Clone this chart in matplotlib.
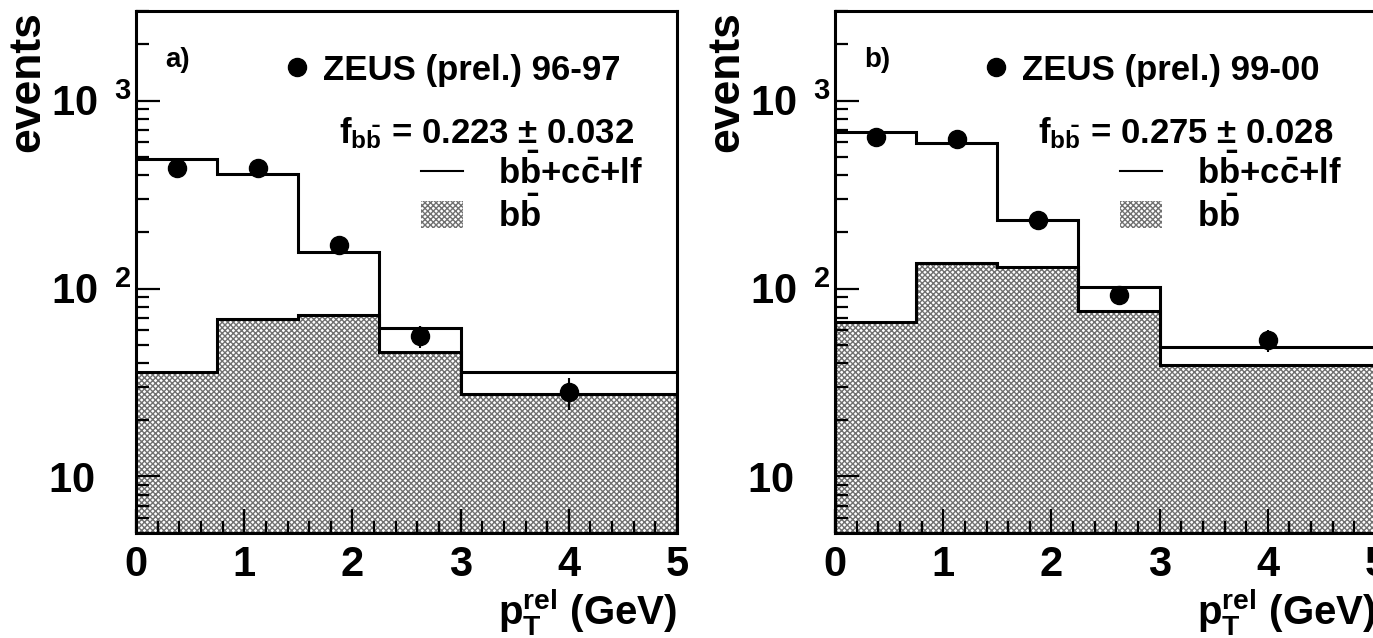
import matplotlib
matplotlib.use('Agg')
import matplotlib.pyplot as plt
import matplotlib.ticker as mticker
import matplotlib.transforms as mtransforms
from matplotlib.lines import Line2D
from matplotlib.patches import Patch
import numpy as np

# bin edges in p_T^rel (GeV)
EDGES = [0.0, 0.75, 1.5, 2.25, 3.0, 5.0]
XPTS = [0.375, 1.125, 1.875, 2.625, 4.0]

# panel a) 96-97
A_TOTAL = [489, 406, 156, 62, 36]
A_BB = [36, 69, 72, 46, 27.5]
A_DATA = [437, 440, 170, 56, 28]
A_ERR = [21, 21, 13, 7.5, 5.5]

# panel b) 99-00
B_TOTAL = [680, 594, 231, 102, 49]
B_BB = [66, 136, 131, 76, 39]
B_DATA = [640, 625, 231, 92, 53]
B_ERR = [25, 25, 15, 9.5, 7.3]

TAGS = ['a)', 'b)']
PERIODS = ['96-97', '99-00']
FBB = ['0.223 ± 0.032', '0.275 ± 0.028']
YTICKS = [10, 100, 1000]
YTICKLABELS = [r'$\mathbf{10}$', r'$\mathbf{10}^{\ \ \mathbf{2}}$', r'$\mathbf{10}^{\ \ \mathbf{3}}$']

plt.rcParams['font.family'] = ['Liberation Sans', 'DejaVu Sans']
plt.rcParams['font.weight'] = 'bold'
plt.rcParams['axes.labelweight'] = 'bold'
plt.rcParams['mathtext.fontset'] = 'custom'
plt.rcParams['mathtext.rm'] = 'Liberation Sans:bold'
plt.rcParams['mathtext.bf'] = 'Liberation Sans:bold'
plt.rcParams['mathtext.it'] = 'Liberation Sans:bold'
plt.rcParams['hatch.color'] = '#707070'
plt.rcParams['hatch.linewidth'] = 1.0

HATCH = 'xxxxxx'


def draw_panel(fig, ax, total, bb, data, err, tag, period, fbb):
   ax.stairs(bb, EDGES, baseline=1, fill=True, facecolor='white', edgecolor='#707070', lw=0, hatch=HATCH)
   ax.stairs(bb, EDGES, baseline=None, color='black', lw=2.2)
   ax.stairs(total, EDGES, baseline=None, color='black', lw=2.2)
   ax.errorbar(XPTS, data, yerr=err, fmt='o', color='black', ms=13, elinewidth=1.5, capsize=0, zorder=5)

   ax.set_yscale('log')
   ax.set_xlim(0, 5)
   ax.set_ylim(5, 3000)
   ax.yaxis.set_major_locator(mticker.FixedLocator(YTICKS))
   ax.yaxis.set_major_formatter(mticker.FixedFormatter(YTICKLABELS))
   ax.yaxis.set_minor_locator(mticker.LogLocator(base=10, subs=np.arange(2, 10)))
   ax.yaxis.set_minor_formatter(mticker.NullFormatter())
   ax.xaxis.set_major_locator(mticker.MultipleLocator(1))
   ax.xaxis.set_minor_locator(mticker.MultipleLocator(0.2))
   ax.tick_params(which='both', direction='in', top=False, right=False, width=1.6, labelsize=30)
   ax.tick_params(which='major', length=17)
   ax.tick_params(which='minor', length=9)
   ax.tick_params(axis='y', which='major', pad=3)
   ax.tick_params(axis='x', which='major', pad=9)
   for sp in ax.spines.values():
      sp.set_linewidth(2.2)
   # plain "10" sits where the other mantissas sit, not flush to the axis
   lab10 = ax.yaxis.get_major_ticks()[0].label1
   lab10.set_transform(lab10.get_transform() + mtransforms.ScaledTranslation(-0.37, 0, fig.dpi_scale_trans))

   ax.set_ylabel('events', fontsize=32, loc='top')
   ax.yaxis.set_label_coords(-0.163, 1.0)
   ax.set_xlabel(r'$\mathbf{p_T^{rel}}$ (GeV)', fontsize=29, loc='right', labelpad=1)

   ax.text(0.054, 0.906, tag, transform=ax.transAxes, fontsize=20, ha='left', va='center')
   leg1 = ax.legend([Line2D([], [], ls='none', marker='o', color='black', ms=13)],
                    ['ZEUS (prel.) %s' % period], loc='center left', bbox_to_anchor=(0.265, 0.887),
                    frameon=False, fontsize=25, handlelength=1.0, handletextpad=0.25, borderpad=0, borderaxespad=0)
   ax.add_artist(leg1)
   ax.text(0.375, 0.766, r'$\mathbf{f_{b\bar{b}}}$ = %s' % fbb, transform=ax.transAxes, fontsize=25, ha='left', va='center')
   ax.legend([Line2D([], [], color='black', lw=1.5),
              Patch(facecolor='white', edgecolor='#707070', lw=0, hatch=HATCH)],
             [r'$\mathbf{b\bar{b}{+}c\bar{c}{+}lf}$', r'$\mathbf{b\bar{b}}$'],
             loc='upper left', bbox_to_anchor=(0.527, 0.728), frameon=False, fontsize=25,
             handlelength=1.2, handleheight=0.85, handletextpad=1.0, labelspacing=0.15,
             borderpad=0, borderaxespad=0)


def main():
   fig = plt.figure(figsize=(13.73, 6.38), dpi=100)
   ax_a = fig.add_axes([0.0991, 0.1646, 0.394, 0.818])
   ax_b = fig.add_axes([0.6082, 0.1646, 0.394, 0.818])
   draw_panel(fig, ax_a, A_TOTAL, A_BB, A_DATA, A_ERR, TAGS[0], PERIODS[0], FBB[0])
   draw_panel(fig, ax_b, B_TOTAL, B_BB, B_DATA, B_ERR, TAGS[1], PERIODS[1], FBB[1])
   fig.savefig('out.png', dpi=100)
   plt.close(fig)


if __name__ == '__main__':
   main()
